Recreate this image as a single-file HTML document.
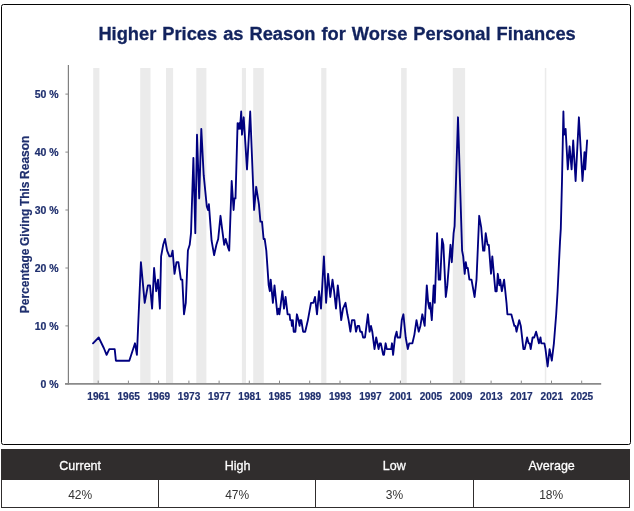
<!DOCTYPE html>
<html><head><meta charset="utf-8"><title>Higher Prices as Reason for Worse Personal Finances</title>
<style>
html,body{margin:0;padding:0;background:#fff;}
body{width:634px;height:511px;position:relative;overflow:hidden;font-family:"Liberation Sans",sans-serif;}
#box{position:absolute;left:1px;top:4px;width:628px;height:438.7px;border:1.4px solid #050505;border-radius:2.5px;box-sizing:content-box;}
svg{position:absolute;left:0;top:0;}
.ax{font:bold 10.5px "Liberation Sans",sans-serif;fill:#1f2f6e;stroke:#1f2f6e;stroke-width:0.2px;}
.ttl{font:bold 18.3px "Liberation Sans",sans-serif;fill:#12235e;stroke:#12235e;stroke-width:0.3px;}
#tb{position:absolute;left:1px;top:449.3px;width:629.4px;height:58.6px;box-sizing:border-box;border:1px solid #302d2d;border-top:none;}
#th{position:absolute;left:1px;top:449.3px;width:629.4px;height:30.3px;background:#302d2d;}
.c{position:absolute;width:157.5px;text-align:center;white-space:nowrap;}
.h{top:456.8px;color:#fff;font-size:13.3px;line-height:18px;-webkit-text-stroke:0.3px #fff;}
.d{top:486.4px;color:#333;font-size:13.2px;line-height:18px;}
.d span{transform:scaleX(.91) !important;}
.c span{display:inline-block;transform:scaleX(.94);}
.v{position:absolute;top:479px;width:1px;height:28.5px;background:#302d2d;}
</style></head><body>
<div id="box"></div>
<svg width="634" height="511" viewBox="0 0 634 511">
<rect x="93.2" y="68" width="6.2" height="315.9" fill="#ebebeb"/><rect x="140.2" y="68" width="10.3" height="315.9" fill="#ebebeb"/><rect x="166.0" y="68" width="7.1" height="315.9" fill="#ebebeb"/><rect x="196.3" y="68" width="10.1" height="315.9" fill="#ebebeb"/><rect x="241.9" y="68" width="4.1" height="315.9" fill="#ebebeb"/><rect x="253.2" y="68" width="10.6" height="315.9" fill="#ebebeb"/><rect x="321.2" y="68" width="5.2" height="315.9" fill="#ebebeb"/><rect x="401.1" y="68" width="5.6" height="315.9" fill="#ebebeb"/><rect x="452.8" y="68" width="12.3" height="315.9" fill="#ebebeb"/><rect x="544.8" y="68" width="1.5" height="315.9" fill="#ebebeb"/>
<line x1="68.4" y1="65" x2="68.4" y2="384.5" stroke="#808080" stroke-width="1.2"/>
<line x1="65" y1="383.9" x2="601.2" y2="383.9" stroke="#8a8a8a" stroke-width="1.7"/>
<line x1="98.2" y1="380.6" x2="98.2" y2="383.9" stroke="#8a8a8a" stroke-width="1"/><text x="98.5" y="400.3" text-anchor="middle" class="ax" style="font-size:10.1px">1961</text><line x1="128.4" y1="380.6" x2="128.4" y2="383.9" stroke="#8a8a8a" stroke-width="1"/><text x="128.7" y="400.3" text-anchor="middle" class="ax" style="font-size:10.1px">1965</text><line x1="158.6" y1="380.6" x2="158.6" y2="383.9" stroke="#8a8a8a" stroke-width="1"/><text x="158.9" y="400.3" text-anchor="middle" class="ax" style="font-size:10.1px">1969</text><line x1="188.9" y1="380.6" x2="188.9" y2="383.9" stroke="#8a8a8a" stroke-width="1"/><text x="189.1" y="400.3" text-anchor="middle" class="ax" style="font-size:10.1px">1973</text><line x1="219.1" y1="380.6" x2="219.1" y2="383.9" stroke="#8a8a8a" stroke-width="1"/><text x="219.3" y="400.3" text-anchor="middle" class="ax" style="font-size:10.1px">1977</text><line x1="249.3" y1="380.6" x2="249.3" y2="383.9" stroke="#8a8a8a" stroke-width="1"/><text x="249.6" y="400.3" text-anchor="middle" class="ax" style="font-size:10.1px">1981</text><line x1="279.5" y1="380.6" x2="279.5" y2="383.9" stroke="#8a8a8a" stroke-width="1"/><text x="279.8" y="400.3" text-anchor="middle" class="ax" style="font-size:10.1px">1985</text><line x1="309.7" y1="380.6" x2="309.7" y2="383.9" stroke="#8a8a8a" stroke-width="1"/><text x="310.0" y="400.3" text-anchor="middle" class="ax" style="font-size:10.1px">1989</text><line x1="340.0" y1="380.6" x2="340.0" y2="383.9" stroke="#8a8a8a" stroke-width="1"/><text x="340.2" y="400.3" text-anchor="middle" class="ax" style="font-size:10.1px">1993</text><line x1="370.2" y1="380.6" x2="370.2" y2="383.9" stroke="#8a8a8a" stroke-width="1"/><text x="370.4" y="400.3" text-anchor="middle" class="ax" style="font-size:10.1px">1997</text><line x1="400.4" y1="380.6" x2="400.4" y2="383.9" stroke="#8a8a8a" stroke-width="1"/><text x="400.6" y="400.3" text-anchor="middle" class="ax" style="font-size:10.1px">2001</text><line x1="430.6" y1="380.6" x2="430.6" y2="383.9" stroke="#8a8a8a" stroke-width="1"/><text x="430.9" y="400.3" text-anchor="middle" class="ax" style="font-size:10.1px">2005</text><line x1="460.8" y1="380.6" x2="460.8" y2="383.9" stroke="#8a8a8a" stroke-width="1"/><text x="461.1" y="400.3" text-anchor="middle" class="ax" style="font-size:10.1px">2009</text><line x1="491.1" y1="380.6" x2="491.1" y2="383.9" stroke="#8a8a8a" stroke-width="1"/><text x="491.3" y="400.3" text-anchor="middle" class="ax" style="font-size:10.1px">2013</text><line x1="521.3" y1="380.6" x2="521.3" y2="383.9" stroke="#8a8a8a" stroke-width="1"/><text x="521.5" y="400.3" text-anchor="middle" class="ax" style="font-size:10.1px">2017</text><line x1="551.5" y1="380.6" x2="551.5" y2="383.9" stroke="#8a8a8a" stroke-width="1"/><text x="551.8" y="400.3" text-anchor="middle" class="ax" style="font-size:10.1px">2021</text><line x1="581.7" y1="380.6" x2="581.7" y2="383.9" stroke="#8a8a8a" stroke-width="1"/><text x="582.0" y="400.3" text-anchor="middle" class="ax" style="font-size:10.1px">2025</text>
<line x1="65.4" y1="383.9" x2="68.4" y2="383.9" stroke="#8a8a8a" stroke-width="1"/><text x="58.6" y="387.6" text-anchor="end" class="ax">0 %</text><line x1="65.4" y1="325.9" x2="68.4" y2="325.9" stroke="#8a8a8a" stroke-width="1"/><text x="58.6" y="329.6" text-anchor="end" class="ax">10 %</text><line x1="65.4" y1="268.0" x2="68.4" y2="268.0" stroke="#8a8a8a" stroke-width="1"/><text x="58.6" y="271.7" text-anchor="end" class="ax">20 %</text><line x1="65.4" y1="210.0" x2="68.4" y2="210.0" stroke="#8a8a8a" stroke-width="1"/><text x="58.6" y="213.7" text-anchor="end" class="ax">30 %</text><line x1="65.4" y1="152.1" x2="68.4" y2="152.1" stroke="#8a8a8a" stroke-width="1"/><text x="58.6" y="155.8" text-anchor="end" class="ax">40 %</text><line x1="65.4" y1="94.1" x2="68.4" y2="94.1" stroke="#8a8a8a" stroke-width="1"/><text x="58.6" y="97.8" text-anchor="end" class="ax">50 %</text>
<text x="337.1" y="39.9" text-anchor="middle" class="ttl" style="word-spacing:0.9px">Higher Prices as Reason for Worse Personal Finances</text>
<text transform="translate(29,224.4) rotate(-90)" text-anchor="middle" class="ax" style="font-size:12px;word-spacing:-0.8px">Percentage Giving This Reason</text>
<polyline points="93.0,343.3 98.7,337.5 103.8,348.0 106.6,354.9 109.3,349.1 114.7,349.1 115.9,360.7 129.3,360.7 135.0,343.3 136.9,354.9 140.9,262.2 144.7,302.8 147.9,285.4 150.0,285.4 152.1,308.6 154.1,268.0 156.2,291.2 158.0,279.6 159.9,308.6 161.1,256.4 163.2,244.8 165.0,239.0 167.1,250.6 169.4,256.4 171.2,256.4 172.6,250.6 174.5,273.8 176.5,262.2 178.4,262.2 180.9,279.6 182.3,279.6 184.0,314.3 185.8,302.8 187.9,250.6 189.7,244.8 191.0,233.2 193.4,157.9 195.3,233.2 197.0,134.7 199.2,198.4 201.3,128.9 203.7,175.2 206.8,206.5 208.0,210.0 208.9,204.2 211.6,240.7 214.1,255.2 216.4,244.8 218.2,239.0 220.5,215.8 222.3,230.3 224.2,244.8 225.7,239.0 228.1,247.7 229.2,250.6 231.7,181.0 233.6,210.0 234.4,198.4 235.5,198.4 237.6,123.1 238.5,128.9 239.3,123.1 240.0,128.9 241.2,111.5 242.0,134.7 243.7,117.3 247.0,169.4 250.2,111.5 254.1,210.0 256.2,186.8 258.9,204.2 260.4,221.6 262.0,221.6 263.6,239.0 264.7,239.0 266.3,250.6 268.7,285.4 269.8,291.2 270.7,279.6 272.9,302.8 274.5,285.4 277.4,314.3 278.6,308.6 279.4,314.3 280.2,308.6 282.4,291.2 284.0,308.6 285.6,297.0 287.6,314.3 289.6,314.3 290.2,320.1 291.4,320.1 291.9,325.9 292.8,320.1 293.7,331.7 295.4,331.7 296.9,314.3 298.4,320.1 299.6,325.9 300.2,320.1 301.3,320.1 303.1,331.7 305.2,331.7 307.9,320.1 311.0,302.8 313.4,302.8 315.0,297.0 317.0,314.3 319.0,291.2 321.0,308.6 323.9,256.4 326.1,302.8 328.1,273.8 330.3,297.0 332.5,279.6 334.1,291.2 336.0,308.6 337.8,285.4 339.7,302.8 341.2,320.1 343.0,308.6 345.5,302.8 347.4,314.3 348.6,320.1 350.4,331.7 352.0,320.1 354.4,320.1 356.0,331.7 357.5,325.9 359.1,325.9 360.2,331.7 361.8,331.7 363.1,337.5 365.0,337.5 367.9,314.3 369.6,331.7 371.0,325.9 372.3,331.7 374.5,349.1 376.2,337.5 378.6,349.1 379.7,343.3 380.8,343.3 383.2,354.9 384.0,354.9 385.6,343.3 386.8,349.1 391.2,349.1 392.0,343.3 393.1,354.9 395.0,337.5 396.6,331.7 397.5,337.5 400.2,337.5 401.8,320.1 403.4,314.3 405.7,337.5 407.8,349.1 409.2,343.3 412.4,343.3 414.4,334.6 416.5,320.1 418.7,331.7 420.4,325.9 422.3,314.3 424.7,325.9 426.8,285.4 428.2,302.8 429.4,308.6 430.1,302.8 431.8,320.1 433.7,285.4 434.8,302.8 437.1,233.2 438.7,279.6 440.2,279.6 442.1,239.0 443.4,244.8 445.8,297.0 447.3,285.4 450.5,244.8 451.8,262.2 453.6,233.2 454.6,226.2 458.0,117.3 462.1,250.6 463.2,256.4 464.7,273.8 465.8,262.2 466.7,268.0 467.8,268.0 469.4,279.6 471.5,279.6 474.6,297.0 476.5,279.6 479.2,215.8 481.2,227.4 483.1,250.6 484.4,250.6 485.7,233.2 487.6,244.8 488.8,244.8 491.0,273.8 492.3,256.4 495.4,291.2 496.7,291.2 497.8,273.8 499.4,285.4 500.2,279.6 501.8,291.2 504.1,279.6 506.5,302.8 507.4,314.3 511.3,314.3 514.4,325.9 515.5,325.9 516.5,331.7 519.2,320.1 520.8,325.9 523.4,349.1 524.7,349.1 527.1,337.5 528.6,343.3 529.7,343.3 530.7,349.1 532.6,337.5 534.2,337.5 536.1,331.7 537.6,337.5 538.9,343.3 540.5,337.5 541.3,343.3 544.4,343.3 545.5,349.1 547.6,366.5 549.6,349.1 551.8,360.7 553.9,343.3 556.2,314.3 557.6,291.2 560.0,241.9 560.8,228.6 562.0,181.0 563.4,111.5 564.0,134.7 565.6,128.9 567.8,169.4 569.6,146.3 571.6,169.4 573.2,140.5 575.6,181.0 578.9,117.3 582.5,181.0 584.5,152.1 585.2,169.4 587.1,140.5" fill="none" stroke="#000080" stroke-width="1.85" stroke-linejoin="round" stroke-linecap="round"/>
</svg>
<div id="tb"></div><div id="th"></div>
<div class="v" style="left:158px"></div><div class="v" style="left:315.2px"></div><div class="v" style="left:472.5px"></div>
<div class="c h" style="left:1.5px"><span>Current</span></div><div class="c h" style="left:158.6px"><span>High</span></div><div class="c h" style="left:315.7px"><span>Low</span></div><div class="c h" style="left:472.8px"><span>Average</span></div>
<div class="c d" style="left:1.5px"><span>42%</span></div><div class="c d" style="left:158.6px"><span>47%</span></div><div class="c d" style="left:315.7px"><span>3%</span></div><div class="c d" style="left:472.8px"><span>18%</span></div>
</body></html>
